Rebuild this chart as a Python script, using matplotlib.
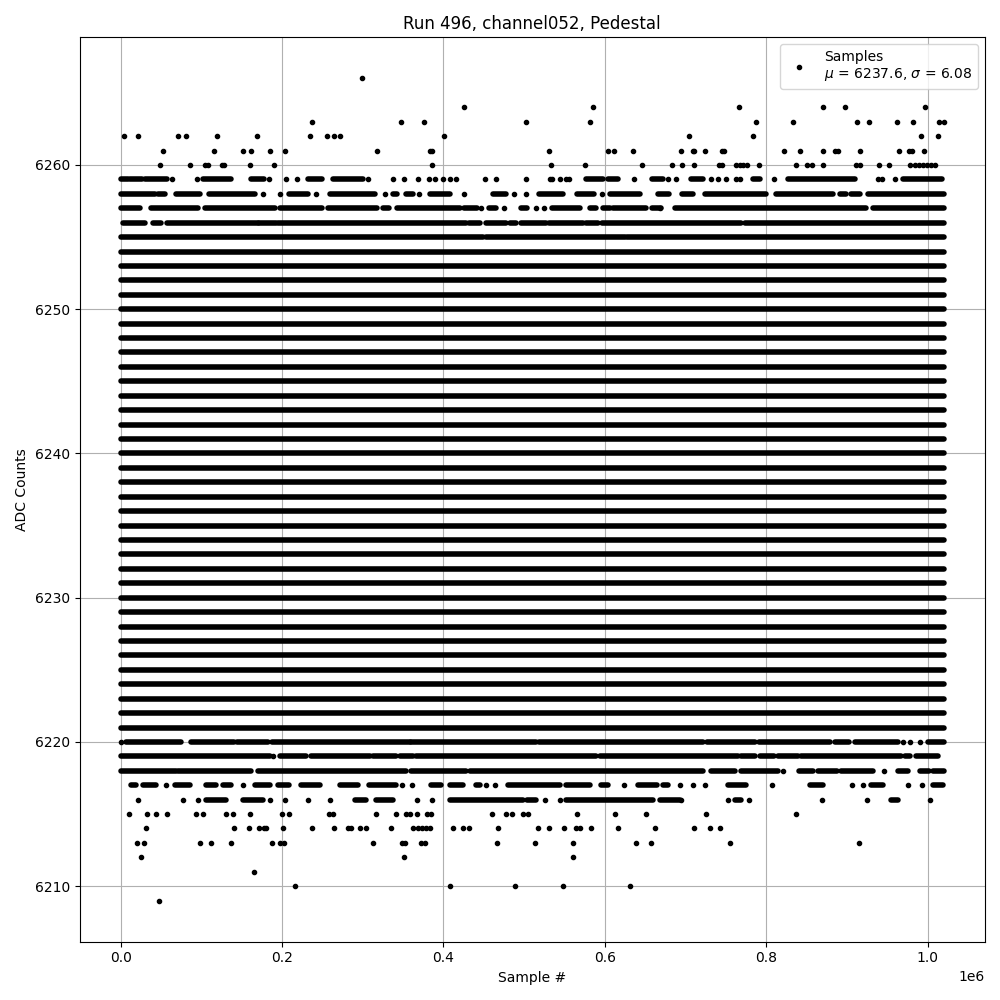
import numpy as np
import matplotlib
matplotlib.use('Agg')
import matplotlib.pyplot as plt

run_number = 496
channel = 'channel052'
n_samples = 1.02  # in units of 1e6
mean_adc = 6237.6
sigma_adc = 6.08

# ADC levels hit all along the run (solid bands)
full_levels = list(range(6221, 6255))

# stretches of consecutive hits (start, end), sample index in units of 1e6
runs_6255 = [(0.0, 0.449), (0.453, 0.6245), (0.628, 1.02)]
runs_6256 = [(0.003, 0.030), (0.040, 0.050), (0.057, 0.170), (0.172, 0.193), (0.195, 0.428),
             (0.432, 0.445), (0.453, 0.478), (0.482, 0.490), (0.4965, 0.5275), (0.531, 0.573),
             (0.577, 0.591), (0.597, 0.769), (0.773, 1.02)]
runs_6257 = [(0.0, 0.024), (0.038, 0.096), (0.104, 0.191), (0.197, 0.249), (0.257, 0.317),
             (0.325, 0.333), (0.342, 0.420), (0.426, 0.441), (0.457, 0.465), (0.4965, 0.503),
             (0.534, 0.569), (0.581, 0.5895), (0.598, 0.606), (0.610, 0.651), (0.658, 0.670),
             (0.687, 0.924), (0.932, 1.02)]
runs_6258 = [(0.001, 0.042), (0.046, 0.055), (0.069, 0.098), (0.110, 0.166), (0.209, 0.232),
             (0.259, 0.315), (0.337, 0.343), (0.354, 0.362), (0.383, 0.408), (0.461, 0.478),
             (0.518, 0.548), (0.565, 0.587), (0.606, 0.643), (0.666, 0.680), (0.696, 0.709),
             (0.724, 0.800), (0.8125, 0.883), (0.891, 0.899), (0.905, 0.916), (0.926, 1.02)]
runs_6259 = [(0.0, 0.009), (0.012, 0.026), (0.030, 0.057), (0.102, 0.137), (0.162, 0.178),
             (0.232, 0.250), (0.263, 0.300), (0.577, 0.598), (0.604, 0.616), (0.658, 0.672),
             (0.707, 0.722), (0.783, 0.792), (0.827, 0.910), (0.969, 1.018)]
runs_6220 = [(0.007, 0.075), (0.0876, 0.141), (0.1446, 0.1825), (0.1875, 0.358), (0.360, 0.515),
             (0.518, 0.721), (0.726, 0.786), (0.791, 0.8786), (0.885, 0.903), (0.9095, 0.963),
             (1.0, 1.02)]
runs_6219 = [(0.0, 0.1846), (0.197, 0.230), (0.236, 0.3085), (0.3127, 0.3416), (0.3457, 0.362),
             (0.366, 0.5895), (0.5935, 0.765), (0.769, 0.786), (0.792, 0.810), (0.8145, 0.839),
             (0.8435, 0.967), (0.9715, 0.978), (0.986, 1.013)]
runs_6218 = [(0.0, 0.069), (0.071, 0.162), (0.170, 0.354), (0.360, 0.4284), (0.4325, 0.721),
             (0.732, 0.761), (0.769, 0.8145), (0.841, 0.858), (0.864, 0.887), (0.893, 0.932),
             (0.963, 0.9756), (0.990, 1.002), (1.0066, 1.02)]
runs_6217 = [(0.013, 0.0195), (0.0277, 0.044), (0.067, 0.0855), (0.106, 0.1186), (0.127, 0.137),
             (0.166, 0.1846), (0.195, 0.209), (0.224, 0.2466), (0.2714, 0.294), (0.3077, 0.3416),
             (0.385, 0.397), (0.4077, 0.424), (0.4408, 0.445), (0.480, 0.544), (0.552, 0.581),
             (0.5957, 0.604), (0.641, 0.664), (0.672, 0.678), (0.7525, 0.775), (0.854, 0.870),
             (0.930, 0.9446), (1.0066, 1.019)]
runs_6216 = [(0.106, 0.131), (0.1516, 0.1764), (0.290, 0.3045), (0.316, 0.3375), (0.4077, 0.4985),
             (0.503, 0.515), (0.552, 0.6596), (0.668, 0.6927), (0.761, 0.769), (0.955, 0.963)]

# isolated samples, sample index in units of 1e6
pts_6266 = [0.299]
pts_6264 = [0.425, 0.585, 0.766, 0.870, 0.897, 0.997]
pts_6263 = [0.237, 0.347, 0.376, 0.502, 0.582, 0.787, 0.833, 0.912, 0.927, 0.962, 0.982, 1.014, 1.020]
pts_6262 = [0.004, 0.022, 0.071, 0.081, 0.119, 0.169, 0.235, 0.256, 0.264, 0.272, 0.401, 0.704,
            0.784, 0.992, 1.013]
pts_6261 = [0.052, 0.116, 0.152, 0.162, 0.185, 0.204, 0.318, 0.383, 0.386, 0.531, 0.604, 0.611,
            0.635, 0.694, 0.709, 0.711, 0.724, 0.745, 0.748, 0.822, 0.842, 0.870, 0.885, 0.889,
            0.916, 0.965, 0.977, 0.981, 0.995]
pts_6260 = [0.049, 0.086, 0.104, 0.108, 0.125, 0.128, 0.160, 0.190, 0.386, 0.533, 0.575, 0.646,
            0.683, 0.695, 0.711, 0.742, 0.745, 0.762, 0.767, 0.771, 0.776, 0.791, 0.837, 0.851,
            0.857, 0.870, 0.911, 0.916, 0.940, 0.952, 0.978, 0.984, 0.989, 0.994, 0.999, 1.004, 1.009]
pts_6259 = [0.064, 0.094, 0.184, 0.205, 0.218, 0.306, 0.337, 0.351, 0.368, 0.382, 0.390, 0.399,
            0.408, 0.415, 0.451, 0.465, 0.502, 0.532, 0.535, 0.544, 0.552, 0.555, 0.636, 0.678,
            0.688, 0.731, 0.740, 0.750, 0.763, 0.767, 0.810, 0.938, 0.943, 0.959]
pts_6258 = [0.176, 0.197, 0.242, 0.327, 0.370, 0.425, 0.487, 0.502, 0.596]
pts_6257 = [0.447, 0.475, 0.515, 0.5245, 0.668]
pts_6220 = [0.0, 0.969, 0.978, 0.991]
pts_6219 = [0.1887]
pts_6218 = [0.8207, 0.946]
pts_6217 = [0.0566, 0.151, 0.348, 0.3614, 0.453, 0.4634, 0.6237, 0.6927, 0.709, 0.724, 0.807,
            0.906, 0.920, 0.9756, 0.993]
pts_6216 = [0.0215, 0.077, 0.0958, 0.1855, 0.203, 0.232, 0.259, 0.367, 0.386, 0.526, 0.544,
            0.6948, 0.7525, 0.7786, 0.869, 0.9247, 1.0033]
pts_6215 = [0.0103, 0.0326, 0.0437, 0.0574, 0.0937, 0.102, 0.131, 0.139, 0.160, 0.200, 0.2086,
            0.258, 0.263, 0.316, 0.3408, 0.353, 0.358, 0.367, 0.379, 0.385, 0.460, 0.478, 0.485,
            0.499, 0.505, 0.565, 0.6126, 0.6506, 0.725, 0.8368]
pts_6214 = [0.0318, 0.1404, 0.159, 0.1714, 0.178, 0.1806, 0.201, 0.237, 0.2643, 0.2817, 0.286,
            0.296, 0.3045, 0.3354, 0.362, 0.368, 0.373, 0.378, 0.383, 0.412, 0.424, 0.4316, 0.4675,
            0.517, 0.531, 0.549, 0.5647, 0.569, 0.5828, 0.616, 0.662, 0.7104, 0.730, 0.7427]
pts_6213 = [0.020, 0.0289, 0.0979, 0.1124, 0.137, 0.1875, 0.197, 0.2024, 0.3127, 0.348, 0.352,
            0.3726, 0.3767, 0.466, 0.5134, 0.5605, 0.639, 0.6576, 0.755, 0.915]
pts_6212 = [0.0252, 0.351, 0.5605]
pts_6211 = [0.165]
pts_6210 = [0.216, 0.408, 0.4886, 0.548, 0.631]
pts_6209 = [0.0475]

runs = {6255: runs_6255, 6256: runs_6256, 6257: runs_6257, 6258: runs_6258, 6259: runs_6259,
        6220: runs_6220, 6219: runs_6219, 6218: runs_6218, 6217: runs_6217, 6216: runs_6216}
for level in full_levels:
    runs[level] = [(0.0, n_samples)]

points = {6266: pts_6266, 6264: pts_6264, 6263: pts_6263, 6262: pts_6262, 6261: pts_6261,
          6260: pts_6260, 6259: pts_6259, 6258: pts_6258, 6257: pts_6257, 6220: pts_6220,
          6219: pts_6219, 6218: pts_6218, 6217: pts_6217, 6216: pts_6216, 6215: pts_6215,
          6214: pts_6214, 6213: pts_6213, 6212: pts_6212, 6211: pts_6211, 6210: pts_6210,
          6209: pts_6209}

plt.figure(figsize=(10, 10))

# runs of back-to-back samples merge into solid bands of dots
for level, segs in runs.items():
    for start, end in segs:
        plt.plot([start * 1e6, end * 1e6], [level, level], '-', color='black',
                 linewidth=4, solid_capstyle='round')

xs, ys = [], []
for level, p in points.items():
    xs += [v * 1e6 for v in p]
    ys += [level] * len(p)
plt.plot(xs, ys, 'k.', label=f'Samples\n$\\mu$ = {mean_adc}, $\\sigma$ = {sigma_adc}')

plt.xlabel('Sample #')
plt.ylabel('ADC Counts')
plt.title(f'Run {run_number}, {channel}, Pedestal')
plt.grid(True)
plt.legend(loc='upper right')
plt.tight_layout()
plt.savefig('out.png', dpi=100)
